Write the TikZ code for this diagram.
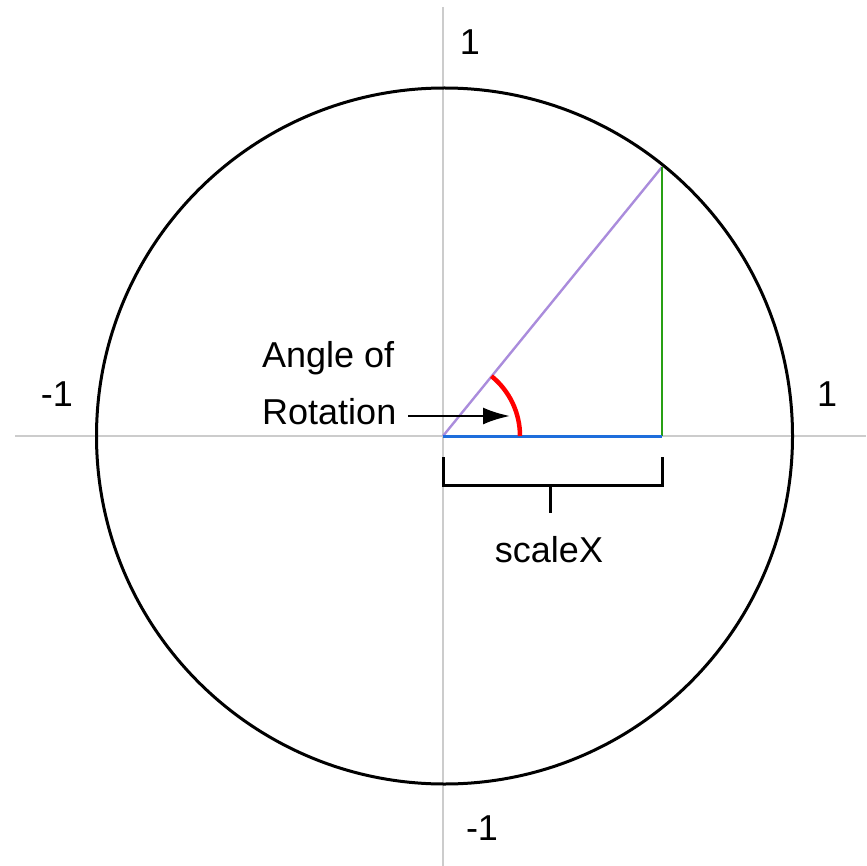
\documentclass[tikz,border=0pt]{standalone}
\usepackage{fontspec}
\setmainfont{Liberation Sans}
\usetikzlibrary{arrows.meta,calc}
\begin{document}
\begin{tikzpicture}[x=1pt,y=-1pt,
  lbl/.style={inner sep=0pt, font=\fontsize{36}{40}\selectfont},
  axis/.style={draw=black!20, line width=1.8pt},
  brk/.style={draw=black, line width=3pt}]
\useasboundingbox (0,0) rectangle (866,866);
\coordinate (O) at (443,436);
\coordinate (P) at (662,167);
\coordinate (F) at (662,436);
\coordinate (AL) at (15,436);
\coordinate (AR) at (866,436);
\coordinate (AT) at (443,7);
\coordinate (AB) at (443,866);
\draw[axis] (AL) -- (AR);
\draw[axis] (AT) -- (AB);
\draw[line width=3pt] (444.5,436) circle[radius=348];
\draw[draw={rgb,255:red,170;green,140;blue,220}, line width=2.4pt] (O) -- (P);
\draw[draw={rgb,255:red,40;green,160;blue,20}, line width=2.4pt] (P) -- (F);
\draw[draw={rgb,255:red,30;green,110;blue,220}, line width=3pt] (O) -- (F);
\draw[draw=red, line width=4.5pt] ($(O)+(77,0)$) arc[start angle=0, end angle=-51, radius=77];
% bracket
\coordinate (B1) at (443,457);
\coordinate (B2) at (443,485);
\coordinate (B3) at (662,485);
\coordinate (B4) at (662,457);
\coordinate (BM) at (550,485);
\coordinate (BT) at (550,513);
\draw[brk] (B1) -- (B2) -- (B3) -- (B4);
\draw[brk] (BM) -- (BT);
% labels
\node[lbl, anchor=base west] (ang1) at (262,367) {Angle of};
\node[lbl, anchor=base west] (ang2) at (262,424) {Rotation};
\node[lbl, anchor=base] (sx) at (549,562) {scaleX};
\node[lbl, anchor=base] (t1) at (470,55) {1};
\node[lbl, anchor=base] (l1) at (57,406) {-1};
\node[lbl, anchor=base] (r1) at (827,406) {1};
\node[lbl, anchor=base] (b1) at (482,840) {-1};
\coordinate (ArE) at (510,416);
\draw[line width=2.6pt, -{Latex[length=27pt,width=17pt]}] ([xshift=12pt]ang2.east |- ArE) -- (ArE);
\end{tikzpicture}
\end{document}
